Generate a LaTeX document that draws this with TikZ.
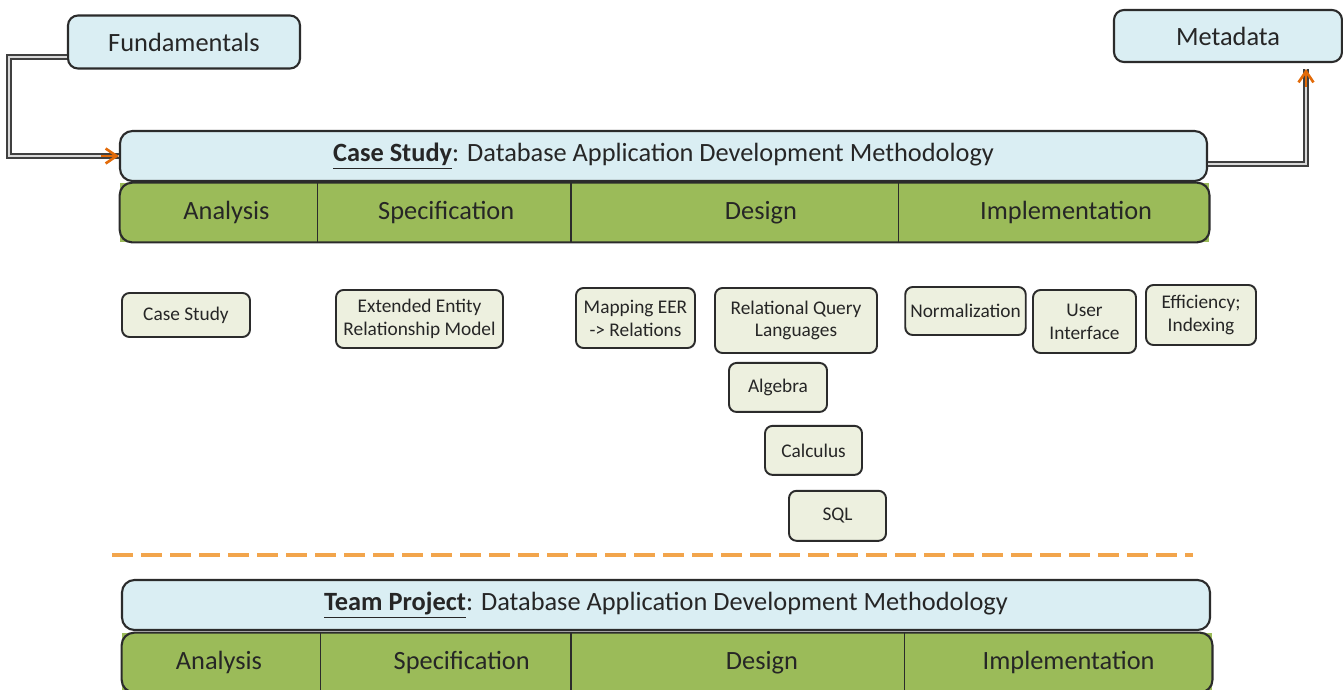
\documentclass[tikz,border=0pt]{standalone}
\usepackage{fontspec}
\setmainfont{Carlito}
\usepackage{tikz}
\usetikzlibrary{arrows.meta, positioning}
\definecolor{hdrblue}{HTML}{DAEEF3}
\definecolor{phgreen}{HTML}{9BBB59}
\definecolor{boxfill}{HTML}{EDF0DF}
\definecolor{dashorange}{HTML}{F2A54C}
\definecolor{tiporange}{HTML}{E26B0A}
\definecolor{rimgray}{HTML}{2B2B2B}
\tikzstyle{topbox} = [rectangle, rounded corners=2mm, draw=rimgray, line width=1.2pt, fill=hdrblue, text=black!85, font=\fontsize{15}{18}\selectfont]
\tikzstyle{header} = [rectangle, rounded corners=2.5mm, draw=rimgray, line width=1.2pt, fill=hdrblue, minimum height=10mm, text=black!85, font=\fontsize{15}{18}\selectfont]
\tikzstyle{phase} = [rectangle, fill=phgreen, minimum height=11.8mm, inner sep=0pt]
\tikzstyle{phtext} = [text=black!85, font=\fontsize{15}{18}\selectfont]
\tikzstyle{divider} = [draw=rimgray, line width=0.8pt]
\tikzstyle{barrim} = [draw=rimgray, line width=1.2pt, rounded corners=2.5mm]
\tikzstyle{topic} = [rectangle, rounded corners=1.5mm, draw=rimgray, line width=1.1pt, fill=boxfill, align=center, inner sep=1mm, text=black!85, font=\fontsize{11}{13}\selectfont]
\tikzstyle{link} = [draw=rimgray!90, double=white!70!gray, double distance=1.6pt, line width=1pt]
\tikzstyle{orangetip} = [tiporange, line width=1.5pt, -{Straight Barb[length=2.2mm, width=3mm]}]
\tikzstyle{separator} = [dashorange, line width=2.2pt, dash pattern=on 4.2mm off 1.6mm]

\begin{document}
\begin{tikzpicture}[x=0.2mm, y=-0.2mm]
	\useasboundingbox (0,0) rectangle (1343,689);
	%----------------------------------------------------%
	\node(fund) [topbox, minimum width=46.4mm, minimum height=10.6mm] at (184,42) {Fundamentals};
	\node(meta) [topbox, minimum width=45.6mm, minimum height=10.4mm] at (1228,36) {Metadata};
	
	%----------------------------------------------------%
	\node(cshead) [header, minimum width=217.4mm] at (663.5,156) {\underline{\textbf{Case Study}}: Database Application Development Methodology};
	\node(csana) [phase, minimum width=39.4mm, label={[phtext, xshift=1.6mm]center:Analysis}] at (218.5,212.5) {};
	\node(csspec) [phase, minimum width=50.6mm, right=0pt of csana, label={[phtext, xshift=0.4mm]center:Specification}] {};
	\node(csdes) [phase, minimum width=65.4mm, right=0pt of csspec, label={[phtext, xshift=5.2mm]center:Design}] {};
	\node(csimp) [phase, minimum width=62mm, right=0pt of csdes, label={[phtext, xshift=2.4mm]center:Implementation}] {};
	\draw[barrim] (csana.north west) rectangle (csimp.south east);
	\foreach \c in {csana,csspec,csdes}
		\draw[divider] (\c.north east) -- (\c.south east);
	
	\draw[link] ([yshift=-3mm]fund.west) -- ++(-58,0) |- (cshead.west);
	\draw[orangetip] ([xshift=-3.5mm]cshead.west) -- (cshead.west);
	
	\coordinate (metain) at ([xshift=15.6mm, yshift=-1.2mm]meta.south);
	\draw[link] ([yshift=-1.6mm]cshead.east) -| (metain);
	\draw[orangetip] ([yshift=-3.5mm]metain) -- (metain);
	
	%----------------------------------------------------%
	\node(cscase) [topic, minimum width=25.6mm, minimum height=8.8mm] at (186,315) {Case Study};
	\node(eer) [topic, minimum width=33.4mm, minimum height=11.6mm] at (419.5,319) {Extended Entity\\Relationship Model};
	\node(map) [topic, minimum width=23.8mm, minimum height=12mm] at (635.5,318) {Mapping EER\\-> Relations};
	\node(rql) [topic, minimum width=32.4mm, minimum height=13mm] at (796,320.5) {Relational Query\\Languages};
	\node(alg) [topic, minimum width=19.6mm, minimum height=9.8mm, below=1.6mm of rql, xshift=-3.6mm] {Algebra};
	\node(calc) [topic, minimum width=19.4mm, minimum height=9.8mm, below=2.4mm of alg, xshift=7.1mm] {Calculus};
	\node(sql) [topic, minimum width=19.4mm, minimum height=10mm, below=2.8mm of calc, xshift=4.8mm] {SQL};
	\node(norm) [topic, minimum width=23.8mm, minimum height=9.6mm] at (965.5,311) {Normalization};
	\node(ui) [topic, minimum width=20.6mm, minimum height=12.6mm] at (1084.5,321.5) {User\\Interface};
	\node(eff) [topic, minimum width=22mm, minimum height=12mm] at (1201,315) {Efficiency;\\Indexing};
	
	%----------------------------------------------------%
	\coordinate (sepl) at (112,555);
	\coordinate (sepr) at (1193,555);
	\draw[separator] (sepl) -- (sepr);
	
	%----------------------------------------------------%
	\node(tphead) [header, minimum width=217.6mm] at (666,605) {\underline{\textbf{Team Project}}: Database Application Development Methodology};
	\node(tpana) [phase, minimum width=39.6mm, label={[phtext, xshift=-0.4mm]center:Analysis}] at (221,662.5) {};
	\node(tpspec) [phase, minimum width=50mm, right=0pt of tpana, label={[phtext, xshift=3.2mm]center:Specification}] {};
	\node(tpdes) [phase, minimum width=66.6mm, right=0pt of tpspec, label={[phtext, xshift=4.8mm]center:Design}] {};
	\node(tpimp) [phase, minimum width=61.4mm, right=0pt of tpdes, label={[phtext, xshift=2mm]center:Implementation}] {};
	\draw[barrim] (tpana.north west) rectangle (tpimp.south east);
	\foreach \c in {tpana,tpspec,tpdes}
		\draw[divider] (\c.north east) -- (\c.south east);
\end{tikzpicture}
\end{document}
